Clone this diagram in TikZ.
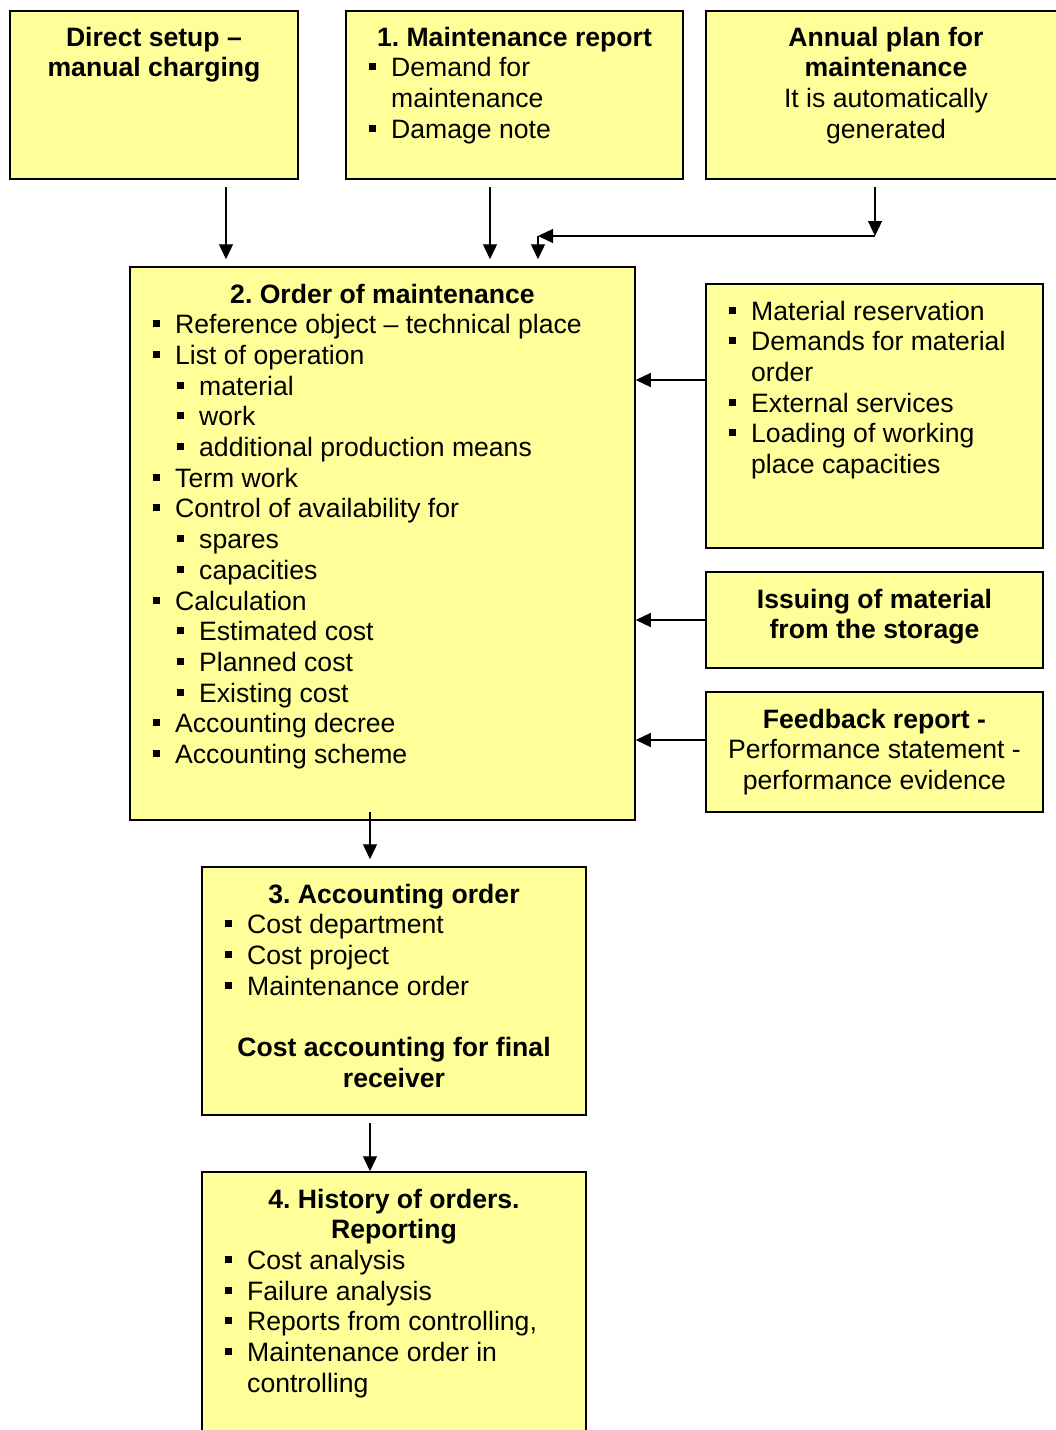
\documentclass[tikz,border=0pt]{standalone}
\usepackage{fontspec}
\setmainfont{Liberation Sans}
\usetikzlibrary{arrows.meta}
\frenchspacing
\definecolor{boxyellow}{RGB}{255,255,153}
\newcommand{\bul}{\makebox[22pt][l]{\rule[6.5pt]{7pt}{7pt}}}
\newcommand{\ind}{\hspace*{22pt}}
\newcommand{\sub}{\hspace*{24pt}\bul}
\begin{document}
\begin{tikzpicture}[x=1pt,y=-1pt,
  every node/.style={inner sep=0pt, font=\fontsize{26.6}{30.7}\selectfont\frenchspacing},
  box/.style={draw=black, line width=1.5pt, fill=boxyellow, rectangle},
  arr/.style={line width=1.3pt, -{Triangle[length=15pt,width=14pt]}},
  txt/.style={anchor=base, align=left},
  lst/.style={anchor=base west}]
\useasboundingbox (0,0) rectangle (1056,1430);
\clip (0,0) rectangle (1056,1430);
\fill[white] (0,0) rectangle (1056,1430);

% boxes
\node[box, minimum width=288pt, minimum height=168pt] (A) at (154,95) {};
\node[box, minimum width=337pt, minimum height=168pt] (B) at (514.5,95) {};
\node[box, minimum width=360pt, minimum height=168pt] (C) at (886,95) {};
\node[box, minimum width=505pt, minimum height=553pt] (D) at (382.5,543.5) {};
\node[box, minimum width=337pt, minimum height=264pt] (E) at (874.5,416) {};
\node[box, minimum width=337pt, minimum height=96pt] (F) at (874.5,620) {};
\node[box, minimum width=337pt, minimum height=120pt] (G) at (874.5,752) {};
\node[box, minimum width=384pt, minimum height=248pt] (H) at (394,991) {};
\node[box, minimum width=384pt, minimum height=278pt] (I) at (394,1311) {};

% texts
\node[txt] (At) at (154,46) {\parbox[t]{280pt}{\centering\bfseries Direct setup –\\manual charging}};
\node[txt] (Bt) at (514.5,46) {\parbox[t]{330pt}{\centering\bfseries 1. Maintenance report}};
\node[lst] (Bl) at (369,76.7) {\parbox[t]{300pt}{\bul Demand for\\\ind maintenance\\\bul Damage note}};
\node[txt] (Ct) at (886,46) {\parbox[t]{350pt}{\centering{\bfseries Annual plan for\\maintenance\\}It is automatically\\generated}};

\node[txt] (Dt) at (382.5,303) {\parbox[t]{495pt}{\centering\bfseries 2. Order of maintenance}};
\node[lst] (Dl) at (153,333.7) {\parbox[t]{470pt}{%
\bul Reference object – technical place\\
\bul List of operation\\
\sub material\\
\sub work\\
\sub additional production means\\
\bul Term work\\
\bul Control of availability for\\
\sub spares\\
\sub capacities\\
\bul Calculation\\
\sub Estimated cost\\
\sub Planned cost\\
\sub Existing cost\\
\bul Accounting decree\\
\bul Accounting scheme}};

\node[lst] (El) at (729,320) {\parbox[t]{310pt}{%
\bul Material reservation\\
\bul Demands for material\\
\ind order\\
\bul External services\\
\bul Loading of working\\
\ind place capacities}};

\node[txt] (Ft) at (874.5,608) {\parbox[t]{330pt}{\centering\bfseries Issuing of material\\from the storage}};
\node[txt] (Gt) at (874.5,728) {\parbox[t]{330pt}{\centering{\bfseries Feedback report -\\}Performance statement -\\performance evidence}};

\node[txt] (Ht) at (394,903) {\parbox[t]{376pt}{\centering\bfseries 3. Accounting order}};
\node[lst] (Hl) at (225,933.7) {\parbox[t]{350pt}{%
\bul Cost department\\
\bul Cost project\\
\bul Maintenance order}};
\node[txt] (Hb) at (394,1056.5) {\parbox[t]{376pt}{\centering\bfseries Cost accounting for final\\receiver}};

\node[txt] (It) at (394,1208) {\parbox[t]{376pt}{\centering\bfseries 4. History of orders.\\Reporting}};
\node[lst] (Il) at (225,1269.4) {\parbox[t]{350pt}{%
\bul Cost analysis\\
\bul Failure analysis\\
\bul Reports from controlling,\\
\bul Maintenance order in\\
\ind controlling}};

% connectors
\coordinate (pA) at (226,187);
\coordinate (pB) at (490,187);
\coordinate (pC) at (875,187);
\coordinate (cC) at (875,236);
\coordinate (cD) at (538,236);
\coordinate (pD) at (370,812);
\coordinate (pH) at (370,1123);
\coordinate (yE) at (0,380);
\coordinate (yG) at (0,740);

\draw[arr, shorten >=7pt] (pA) -- (pA |- D.north);
\draw[arr, shorten >=7pt] (pB) -- (pB |- D.north);
\draw[arr] (pC) -- (cC);
\draw[arr] (cC) -- (cD);
\draw[arr, shorten >=7pt] (cD) -- (cD |- D.north);
\draw[arr] (E.west |- yE) -- (D.east |- yE);
\draw[arr] (F.west) -- (F.west -| D.east);
\draw[arr] (G.west |- yG) -- (D.east |- yG);
\draw[arr, shorten >=7pt] (pD) -- (pD |- H.north);
\draw[arr] (pH) -- (pH |- I.north);
\end{tikzpicture}
\end{document}
